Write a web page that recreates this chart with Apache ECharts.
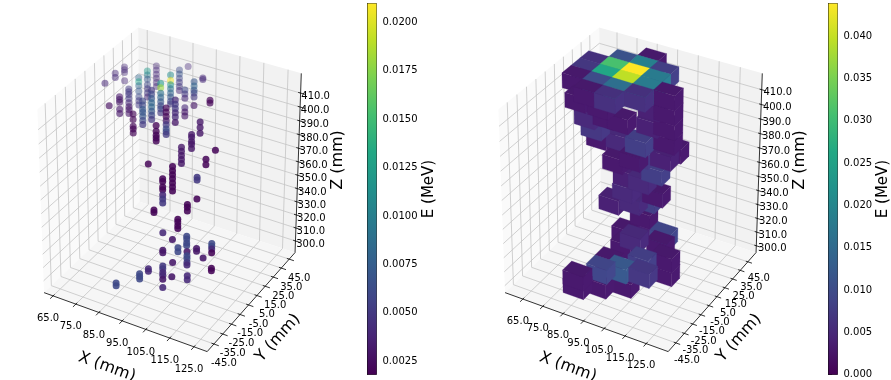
<!DOCTYPE html>
<html>
<head>
<meta charset="utf-8">
<style>html,body{margin:0;background:#fff}#main{width:891px;height:380px}</style>
<script src="https://cdn.jsdelivr.net/npm/echarts@6/dist/echarts.min.js"></script>
</head>
<body>
<div id="main"></div>
<script>
// tick values
var xTicks = [65,75,85,95,105,115,125];
var yTicks = [-45,-35,-25,-15,-5,5,15,25,35,45];
var zTicks = [300,310,320,330,340,350,360,370,380,390,400,410];
var hitBarTicks = [0.0025,0.005,0.0075,0.01,0.0125,0.015,0.0175,0.02];
var voxelBarTicks = [0,0.005,0.01,0.015,0.02,0.025,0.03,0.035,0.04];

var hitX = [65,65,65,70,70,70,75,70,80,75,85,75,90,85,90,85,95,85,90,95,85,95,105,105,100,95,110,105,85,95,90,105,105,85,95,95,85,90,100,105,100,105,110,110,95,115,95,100,100,105,110,90,85,105];
var hitY = [6,17,27,-2,9,19,11,30,9,27,6,37,-2,16,9,27,6,37,30,27,47,37,18,7,11,13,11,14,2,3,5,4,4,8,20,9,18,16,6,-7,-4,4,8,-2,-8,-6,-24,-10,-21,-24,-20,-21,-34,-34];
var hitZ = [
  [411],[412,409],[411,409,407,401],[402],[402,400,398,393,390],[402,400,398,395,392,389,387,384],
  [391,387,382,380,377],[404,401,398,394,390,387,384],[404,401,398,396,393,390,387],[413,410,407,403,400,397,394],
  [416,413,410,407,404,401,398,395],[411,408,405,402,399,396],[398,394,391,389,387],[415,412,408,405,402,399,397,394],
  [404,401,398,395,392,389,387,385],[415,411,408,405,402,399,396,394],[414,411,408,405,402,398],[413,410,407,404,401,398],
  [405,402,399,392,389,386],[415,412,409,407,404,398],[410],[412,411],[412,410],[403,399,395],[389,387,384,382,379],
  [376,373,370,367,364],[383],[372,368],[365],[368,365,362,359,356,353,350],[355,353,349,347,343,340,337],
  [365,363],[349],[327,325],[329,327,324],[325,323,320,318],[303],[302],[317,315,312,310],[317,314,312,309,307],
  [315,312],[312,310],[316,314,312,309],[312],[313,311],[310,308],[310,308],[308],[313,311,308,306,303],[310],[311,308],[301,299,297],[300,298],[309]
];
var hitE = [
  [0.004],[0.004,0.004],[0.004,0.004,0.004,0.004],[0.0025],[0.003,0.003,0.003,0.003,0.003],[0.005,0.005,0.005,0.005,0.004,0.003,0.003,0.003],
  [0.002,0.002,0.002,0.002,0.002],[0.008,0.013,0.008,0.007,0.006,0.005,0.005],[0.006,0.006,0.007,0.007,0.007,0.006,0.005],[0.012,0.01,0.007,0.006,0.005,0.005,0.004],
  [0.005,0.006,0.007,0.008,0.008,0.007,0.006,0.005],[0.004,0.004,0.004,0.004,0.004,0.004],[0.002,0.002,0.002,0.002,0.002],[0.012,0.018,0.009,0.008,0.007,0.006,0.006,0.005],
  [0.002,0.002,0.002,0.003,0.005,0.006,0.006,0.005],[0.011,0.0205,0.012,0.009,0.008,0.007,0.006,0.005],[0.004,0.005,0.005,0.004,0.004,0.003],[0.006,0.007,0.006,0.005,0.005,0.004],
  [0.006,0.005,0.004,0.004,0.003,0.003],[0.007,0.008,0.007,0.006,0.005,0.003],[0.004],[0.004,0.004],[0.002,0.002],[0.003,0.003,0.003],[0.003,0.003,0.003,0.003,0.003],
  [0.003,0.003,0.003,0.003,0.003],[0.002],[0.002,0.002],[0.002],[0.002,0.002,0.002,0.002,0.002,0.002,0.002],[0.002,0.002,0.002,0.002,0.004,0.005,0.005],
  [0.005,0.005],[0.002],[0.002,0.002],[0.002,0.002,0.002],[0.002,0.002,0.002,0.002],[0.004],[0.003],[0.006,0.006,0.006,0.006],[0.003,0.006,0.006,0.005,0.004],
  [0.006,0.006],[0.003,0.003],[0.006,0.006,0.004,0.002],[0.003],[0.003,0.003],[0.002,0.002],[0.004,0.004],[0.003],[0.005,0.005,0.004,0.004,0.003],[0.003],[0.004,0.004],[0.006,0.006,0.006],[0.006,0.006],[0.004]
];

// right plot, one entry per voxel (top face height in voxelTop)
var voxelX = [87,87,77,77,87,77,97,97,87,67,67,67,77,87,97,97,87,77,107,107,107,107,70,81,88,100,75,75,92,79,90,101,102,83,98,83,96,77,90,89,89,83,99,94,101,88,108,100,88,88,95,105,87,87,97,83,88,108,74,81,100,92,91,85];
var voxelY = [25,15,25,15,35,35,25,35,45,25,15,5,5,5,15,5,-5,-5,15,15,15,15,1,1,7,12,7,13,18,22,16,26,36,25,23,24,29,22,34,31,31,23,31,7,22,10,11,2,-8,-18,-12,-9,-42,-42,-11,17,-19,11,2,7,14,21,24,28];
var voxelTop = [420,420,420,420,420,420,420,420,420,420,420,420,420,420,420,420,420,420,420,410,400,390,410,410,400,400,390,380,380,360,370,370,370,350,360,340,340,330,330,320,310,310,310,320,310,310,310,310,310,310,310,310,320,314,300,380,300,300,400,400,410,370,350,330];
var voxelE = [0.0438,0.0395,0.031,0.026,0.019,0.011,0.018,0.008,0.003,0.006,0.007,0.003,0.01,0.016,0.018,0.006,0.006,0.003,0.003,0.003,0.003,0.003,0.003,0.003,0.003,0.004,0.007,0.003,0.008,0.003,0.003,0.004,0.003,0.004,0.008,0.005,0.003,0.004,0.008,0.003,0.004,0.003,0.009,0.005,0.003,0.003,0.003,0.008,0.003,0.009,0.012,0.007,0.003,0.003,0.003,0.005,0.003,0.003,0.005,0.003,0.004,0.007,0.005,0.005];

var viridis = ['#440154','#482475','#414487','#355f8d','#2a788e','#21918c','#22a884','#44bf70','#7ad151','#bddf26','#fde725'];

var leftLim = {x:[61,130.4], y:[-52.5,52.5], z:[291,424]};
var rightLim = {x:[56,135.3], y:[-54,56], z:[295,421]};
var scaleX = 188.3, scaleY = 209;
var centerY = 184;

function colorOf(e, max, min){
	return echarts.color.lerp(Math.max(0,Math.min(1,(e-min)/(max-min))), viridis);
}

// same camera as the original plot, elev 30 azim -60 dist 10
function project(x,y,z,lim){
	var px = (x-lim.x[0])/(lim.x[1]-lim.x[0])-0.5;
	var py = (y-lim.y[0])/(lim.y[1]-lim.y[0])-0.5;
	var pz = (z-lim.z[0])/(lim.z[1]-lim.z[0])-0.5;
	var xv = 0.866*px+0.5*py;
	var yv = -0.25*px+0.433*py+0.866*pz;
	var d = 0.433*px-0.75*py+0.5*pz;
	var f = 10/(10-d);
	// last one is the fade value seen on the hits, high points and far points are paler
	return [xv*f,yv*f,d,0.433*px-0.75*py-0.5*pz];
}

function frameItem(lim,conf){
	return function(params,api){
		var ch = [];
		var pt = function(x,y,z){ return api.coord(project(x,y,z,lim)); };
		var poly = function(ps,fill){
			ch.push({type:'polygon',shape:{points:ps},style:{fill:fill},silent:true});
		};
		var line = function(a,b,color,w){
			ch.push({type:'line',shape:{x1:a[0],y1:a[1],x2:b[0],y2:b[1]},style:{stroke:color,lineWidth:w},silent:true});
		};
		var text = function(s,x,y,size,rot){
			ch.push({type:'text',x:x,y:y,rotation:rot||0,style:{text:s,fill:'#000',font:size+'px "DejaVu Sans"',align:'center',verticalAlign:'middle'},silent:true});
		};
		var x0=lim.x[0],x1=lim.x[1],y0=lim.y[0],y1=lim.y[1],z0=lim.z[0],z1=lim.z[1];
		poly([pt(x0,y0,z0),pt(x0,y1,z0),pt(x0,y1,z1),pt(x0,y0,z1)],'#fafafa');
		poly([pt(x0,y1,z0),pt(x1,y1,z0),pt(x1,y1,z1),pt(x0,y1,z1)],'#f2f2f2');
		poly([pt(x0,y0,z0),pt(x1,y0,z0),pt(x1,y1,z0),pt(x0,y1,z0)],'#f6f6f6');
		var grid = '#c4c4c4';
		xTicks.forEach(function(t){
			line(pt(t,y0,z0),pt(t,y1,z0),grid,0.8);
			line(pt(t,y1,z0),pt(t,y1,z1),grid,0.8);
		});
		yTicks.forEach(function(t){
			line(pt(x0,t,z0),pt(x1,t,z0),grid,0.8);
			line(pt(x0,t,z0),pt(x0,t,z1),grid,0.8);
		});
		zTicks.forEach(function(t){
			line(pt(x0,y0,t),pt(x0,y1,t),grid,0.8);
			line(pt(x0,y1,t),pt(x1,y1,t),grid,0.8);
		});
		line(pt(x0,y0,z0),pt(x1,y0,z0),'#000',0.8);
		line(pt(x1,y0,z0),pt(x1,y1,z0),'#000',0.8);
		line(pt(x1,y1,z0),pt(x1,y1,z1),'#000',0.8);
		xTicks.forEach(function(t){
			line(pt(t,y0+1.5,z0),pt(t,y0-3,z0),'#000',0.8);
			var p = pt(t,y0,z0);
			text(t.toFixed(1),p[0]+conf.xOff[0],p[1]+conf.xOff[1],10);
		});
		yTicks.forEach(function(t){
			line(pt(x1-1,t,z0),pt(x1+2,t,z0),'#000',0.8);
			var p = pt(x1,t,z0);
			text(t.toFixed(1),p[0]+conf.yOff[0],p[1]+conf.yOff[1],10);
		});
		zTicks.forEach(function(t){
			line(pt(x1-1,y1,t),pt(x1+2,y1,t),'#000',0.8);
			var p = pt(x1,y1,t);
			text(t.toFixed(1),p[0]+conf.zOff[0],p[1]+conf.zOff[1],10);
		});
		text('X (mm)',conf.xTitle[0],conf.xTitle[1],16,-20*Math.PI/180);
		text('Y (mm)',conf.yTitle[0],conf.yTitle[1],16,48*Math.PI/180);
		text('Z (mm)',conf.zTitle[0],conf.zTitle[1],16,Math.PI/2);
		return {type:'group',children:ch};
	};
}

// hits, palest first
var hitPoints = [];
hitX.forEach(function(x,i){
	hitZ[i].forEach(function(z,k){
		var p = project(x,hitY[i],z,leftLim);
		hitPoints.push({p:p,e:hitE[i][k]});
	});
});
hitPoints.sort(function(a,b){ return a.p[3]-b.p[3]; });
var dMin = hitPoints[0].p[3], dMax = hitPoints[hitPoints.length-1].p[3];
var hitData = hitPoints.map(function(h){
	return {value:[h.p[0],h.p[1]],itemStyle:{color:colorOf(h.e,0.02097,0.00181),opacity:Math.min(0.88,0.4+0.95*(h.p[3]-dMin)/(dMax-dMin))}};
});

// voxels painted back to front
var voxels = voxelX.map(function(x,i){
	return [x,voxelY[i],voxelTop[i],voxelE[i]];
});
voxels.sort(function(a,b){
	return project(a[0],a[1],a[2]-5,rightLim)[2]-project(b[0],b[1],b[2]-5,rightLim)[2];
});

function voxelItem(params,api){
	var x=api.value(0),y=api.value(1),top=api.value(2),e=api.value(3);
	var c = colorOf(e,0.0438,0);
	var pt = function(a,b,z){ return api.coord(project(a,b,z,rightLim)); };
	var xa=x-5,xb=x+5,ya=y-5,yb=y+5,za=top-10,zb=top;
	var face = function(ps,col){
		return {type:'polygon',shape:{points:ps},style:{fill:col,stroke:col,lineWidth:0.3}};
	};
	return {type:'group',children:[
		face([pt(xa,ya,za),pt(xb,ya,za),pt(xb,ya,zb),pt(xa,ya,zb)],echarts.color.lift(c,-0.03)),
		face([pt(xb,ya,za),pt(xb,yb,za),pt(xb,yb,zb),pt(xb,ya,zb)],echarts.color.lift(c,-0.05)),
		face([pt(xa,ya,zb),pt(xb,ya,zb),pt(xb,yb,zb),pt(xa,yb,zb)],c)
	]};
}

function barItem(params,api){
	var a = api.coord([0,api.value(0)]), b = api.coord([1,api.value(1)]);
	return {type:'rect',shape:{x:a[0],y:b[1],width:b[0]-a[0],height:a[1]-b[1]},
		style:{fill:new echarts.graphic.LinearGradient(0,1,0,0,viridis.map(function(c,i){return {offset:i/10,color:c};}))}};
}

var leftConf = {xOff:[-5,22.5],yOff:[10,19],zOff:[15,3.5],xTitle:[107,367],yTitle:[278,338],zTitle:[338,160]};
var rightConf = {xOff:[-5,22],yOff:[11,17],zOff:[16,3],xTitle:[568,367],yTitle:[739,338],zTitle:[800,160]};

function plotAxes(left,width,originX){
	return {
		x:{type:'value',gridIndex:0,show:false,min:(left-originX)/scaleX,max:(left+width-originX)/scaleX},
		y:{type:'value',gridIndex:0,show:false,min:(centerY-380)/scaleY,max:centerY/scaleY}
	};
}
var a0 = plotAxes(0,355,171.5), a1 = plotAxes(461,361,632.5);

function barAxis(idx,min,max,ticks,digits,gap){
	return {type:'value',gridIndex:idx,position:'right',min:min,max:max,
		name:'E (MeV)',nameLocation:'middle',nameRotate:90,nameGap:gap,
		nameTextStyle:{fontFamily:'DejaVu Sans',fontSize:15,color:'#000'},
		axisLine:{show:true,lineStyle:{color:'#000',width:0.8}},
		axisTick:{show:true,length:3.5,lineStyle:{color:'#000',width:0.8},customValues:ticks},
		axisLabel:{color:'#000',fontFamily:'DejaVu Sans',fontSize:10,margin:6,customValues:ticks,
			formatter:function(v){return v.toFixed(digits);}},
		splitLine:{show:false}};
}

var chart = echarts.init(document.getElementById('main'),null,{renderer:'canvas'});
chart.setOption({
	animation:false,
	backgroundColor:'#fff',
	grid:[
		{left:0,top:0,width:355,height:380,outerBoundsMode:'none'},
		{left:461,top:0,width:361,height:380,outerBoundsMode:'none'},
		{left:367.5,top:3.5,width:9,height:371,outerBoundsMode:'none',show:true,borderColor:'#000',borderWidth:0.8,backgroundColor:'transparent'},
		{left:828.5,top:3.5,width:9,height:371,outerBoundsMode:'none',show:true,borderColor:'#000',borderWidth:0.8,backgroundColor:'transparent'}
	],
	xAxis:[
		a0.x,
		{type:'value',gridIndex:1,show:false,min:a1.x.min,max:a1.x.max},
		{type:'value',gridIndex:2,show:false,min:0,max:1},
		{type:'value',gridIndex:3,show:false,min:0,max:1}
	],
	yAxis:[
		a0.y,
		{type:'value',gridIndex:1,show:false,min:a1.y.min,max:a1.y.max},
		barAxis(2,0.00181,0.02097,hitBarTicks,4,44),
		barAxis(3,0,0.04387,voxelBarTicks,3,38)
	],
	series:[
		{type:'custom',xAxisIndex:0,yAxisIndex:0,clip:false,silent:true,data:[[0,0]],renderItem:frameItem(leftLim,leftConf)},
		{type:'scatter',xAxisIndex:0,yAxisIndex:0,symbolSize:7,silent:true,data:hitData},
		{type:'custom',xAxisIndex:1,yAxisIndex:1,clip:false,silent:true,data:[[0,0]],renderItem:frameItem(rightLim,rightConf)},
		{type:'custom',xAxisIndex:1,yAxisIndex:1,clip:false,silent:true,data:voxels,renderItem:voxelItem},
		{type:'custom',xAxisIndex:2,yAxisIndex:2,silent:true,data:[[0.00181,0.02097]],renderItem:barItem},
		{type:'custom',xAxisIndex:3,yAxisIndex:3,silent:true,data:[[0,0.04387]],renderItem:barItem}
	]
});
</script>
</body>
</html>
